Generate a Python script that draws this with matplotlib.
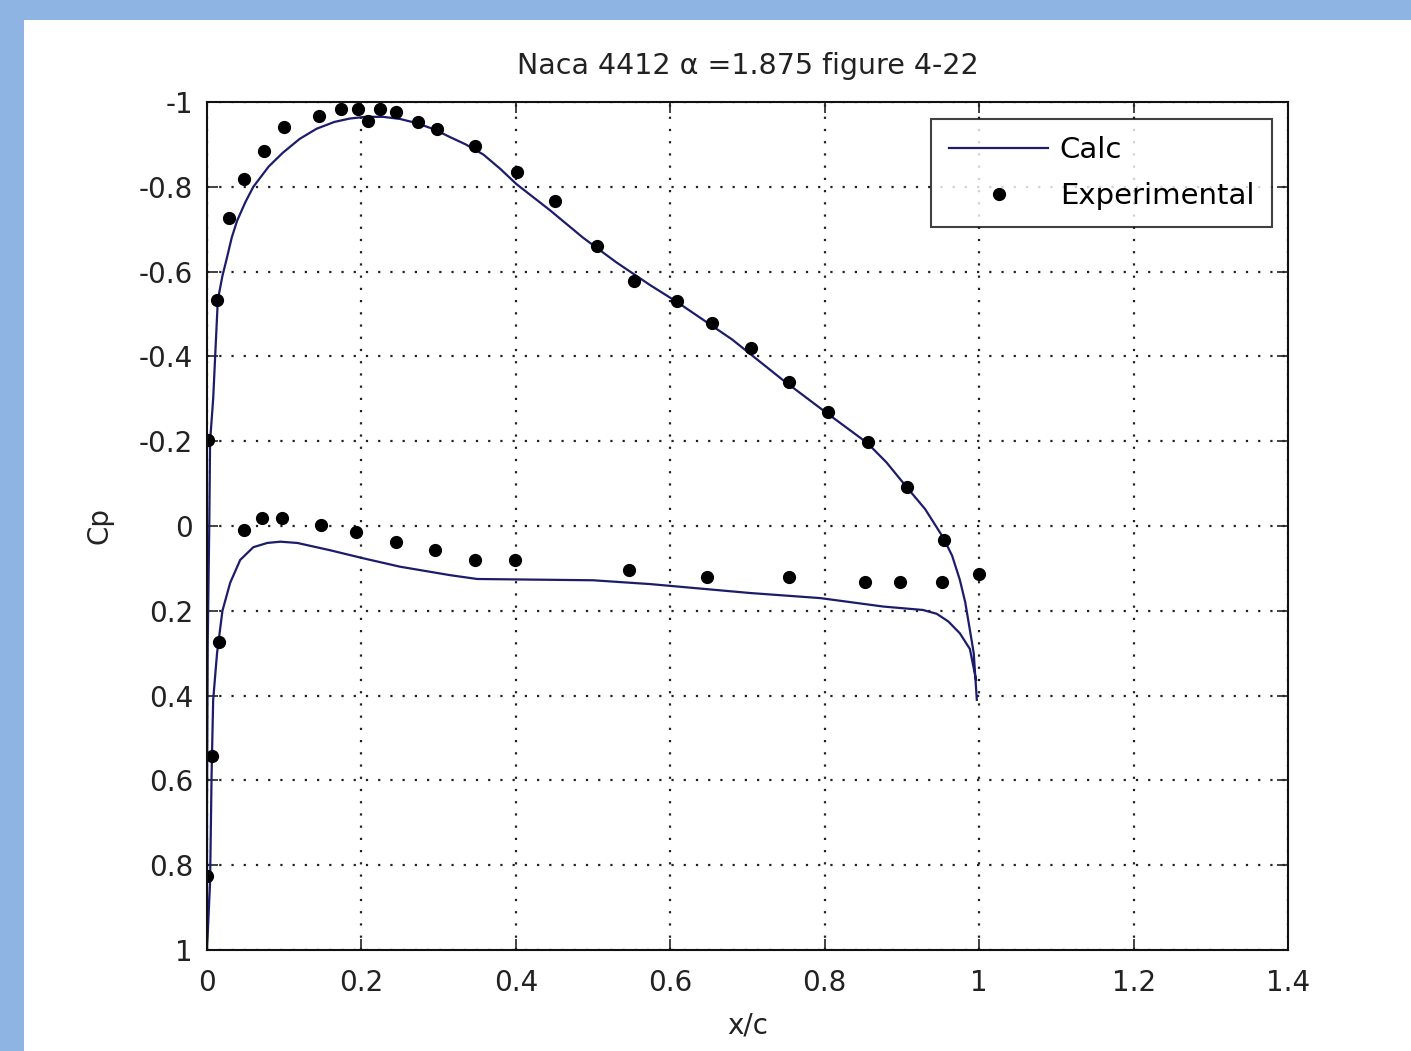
import matplotlib
matplotlib.use("Agg")
import matplotlib.pyplot as plt
from matplotlib.patches import Rectangle

# calculated Cp, upper surface (LE -> TE)
calc_upper_x = [0.0, 0.0, 0.001, 0.003, 0.004, 0.008, 0.014, 0.02, 0.026, 0.032, 0.039,
                0.05, 0.06, 0.08, 0.098, 0.12, 0.142, 0.165, 0.185, 0.205, 0.228, 0.25,
                0.272, 0.295, 0.315, 0.335, 0.358, 0.38, 0.401, 0.444, 0.487, 0.53,
                0.574, 0.609, 0.68, 0.746, 0.8, 0.855, 0.88, 0.906, 0.93, 0.953, 0.965,
                0.975, 0.982, 0.988, 0.993, 0.997]
calc_upper_cp = [1.0, 0.65, 0.27, -0.01, -0.2, -0.30, -0.533, -0.59, -0.634, -0.68, -0.72,
                 -0.765, -0.80, -0.848, -0.88, -0.913, -0.937, -0.953, -0.961, -0.965,
                 -0.965, -0.96, -0.95, -0.935, -0.917, -0.90, -0.876, -0.842, -0.806,
                 -0.745, -0.68, -0.622, -0.568, -0.528, -0.44, -0.344, -0.27, -0.196,
                 -0.15, -0.092, -0.04, 0.026, 0.07, 0.127, 0.18, 0.245, 0.30, 0.41]

# calculated Cp, lower surface (LE -> TE)
calc_lower_x = [0.0, 0.004, 0.006, 0.008, 0.013, 0.02, 0.030, 0.043, 0.06, 0.078, 0.095,
                0.117, 0.159, 0.202, 0.25, 0.315, 0.35, 0.5, 0.574, 0.703, 0.794, 0.876,
                0.927, 0.945, 0.96, 0.975, 0.988, 0.996]
calc_lower_cp = [1.0, 0.84, 0.58, 0.41, 0.30, 0.20, 0.134, 0.08, 0.05, 0.04, 0.037,
                 0.04, 0.057, 0.076, 0.096, 0.116, 0.125, 0.128, 0.137, 0.158, 0.17, 0.19,
                 0.198, 0.207, 0.225, 0.253, 0.29, 0.363]

# experimental points
exp_x = [0.001, 0.013, 0.028, 0.048, 0.074, 0.1, 0.145, 0.174, 0.196, 0.209, 0.224, 0.245,
         0.273, 0.298, 0.347, 0.402, 0.451, 0.505, 0.553, 0.609, 0.654, 0.705, 0.754, 0.804,
         0.856, 0.907, 0.955, 1.0,
         0.0, 0.006, 0.016, 0.048, 0.071, 0.097, 0.148, 0.193, 0.245, 0.295, 0.347, 0.399,
         0.547, 0.648, 0.754, 0.852, 0.898, 0.952]
exp_cp = [-0.203, -0.533, -0.726, -0.818, -0.884, -0.941, -0.967, -0.983, -0.983, -0.955,
          -0.983, -0.976, -0.953, -0.936, -0.896, -0.835, -0.767, -0.660, -0.578, -0.531,
          -0.479, -0.420, -0.340, -0.269, -0.198, -0.092, 0.033, 0.113,
          0.825, 0.542, 0.274, 0.009, -0.019, -0.019, -0.002, 0.014, 0.038, 0.057, 0.080,
          0.080, 0.104, 0.120, 0.120, 0.132, 0.132, 0.132]

x_ticks = [0, 0.2, 0.4, 0.6, 0.8, 1, 1.2, 1.4]
y_ticks = [-1, -0.8, -0.6, -0.4, -0.2, 0, 0.2, 0.4, 0.6, 0.8, 1]

plt.rcParams["font.family"] = ["DejaVu Sans"]

fig = plt.figure(figsize=(14.11, 10.51), dpi=100)
fig.patches.append(Rectangle((0, 1 - 20 / 1051), 1, 20 / 1051, transform=fig.transFigure,
                             facecolor="#8eb4e3", edgecolor="none", zorder=-1))
fig.patches.append(Rectangle((0, 0), 24 / 1411, 1, transform=fig.transFigure,
                             facecolor="#8eb4e3", edgecolor="none", zorder=-1))

ax = fig.add_axes([207 / 1411, 101 / 1051, 1081 / 1411, 848 / 1051])

# one line around the airfoil: TE lower -> LE -> TE upper
line_x = calc_lower_x[::-1] + calc_upper_x
line_cp = calc_lower_cp[::-1] + calc_upper_cp
ax.plot(line_x, line_cp, color="#1c1c6c", lw=1.6, label="Calc")
ax.plot(exp_x, exp_cp, "o", color="black", ms=8.5, label="Experimental")

ax.set_xlim(0, 1.4)
ax.set_ylim(1, -1)
ax.set_xticks(x_ticks)
ax.set_yticks(y_ticks)
ax.set_xticklabels([f"{v:g}" for v in x_ticks])
ax.set_yticklabels([f"{v:g}" for v in y_ticks])
ax.tick_params(direction="in", length=8, width=1.2, top=True, right=True,
               labelsize=20, colors="#222222")
ax.tick_params(axis="x", pad=14)
ax.tick_params(axis="y", pad=10)
for s in ax.spines.values():
    s.set_linewidth(1.5)
    s.set_color("#111111")
ax.grid(True, color="#222222", linestyle=(0, (1, 4.5)), linewidth=1.6)

ax.set_title("Naca 4412 \u03b1 =1.875 figure 4-22", fontsize=20.5, color="#222222", pad=20)
ax.set_xlabel("x/c", fontsize=20, color="#222222", labelpad=10)
ax.set_ylabel("Cp", fontsize=20, color="#222222", labelpad=18)

leg = ax.legend(loc="upper right", fontsize=21, frameon=True, fancybox=False,
                edgecolor="#111111", borderpad=0.6, handlelength=3.4, handletextpad=0.4,
                labelspacing=0.6, borderaxespad=0, bbox_to_anchor=(0.985, 0.98))
leg.get_frame().set_linewidth(1.5)

fig.savefig("out.png", dpi=100)
